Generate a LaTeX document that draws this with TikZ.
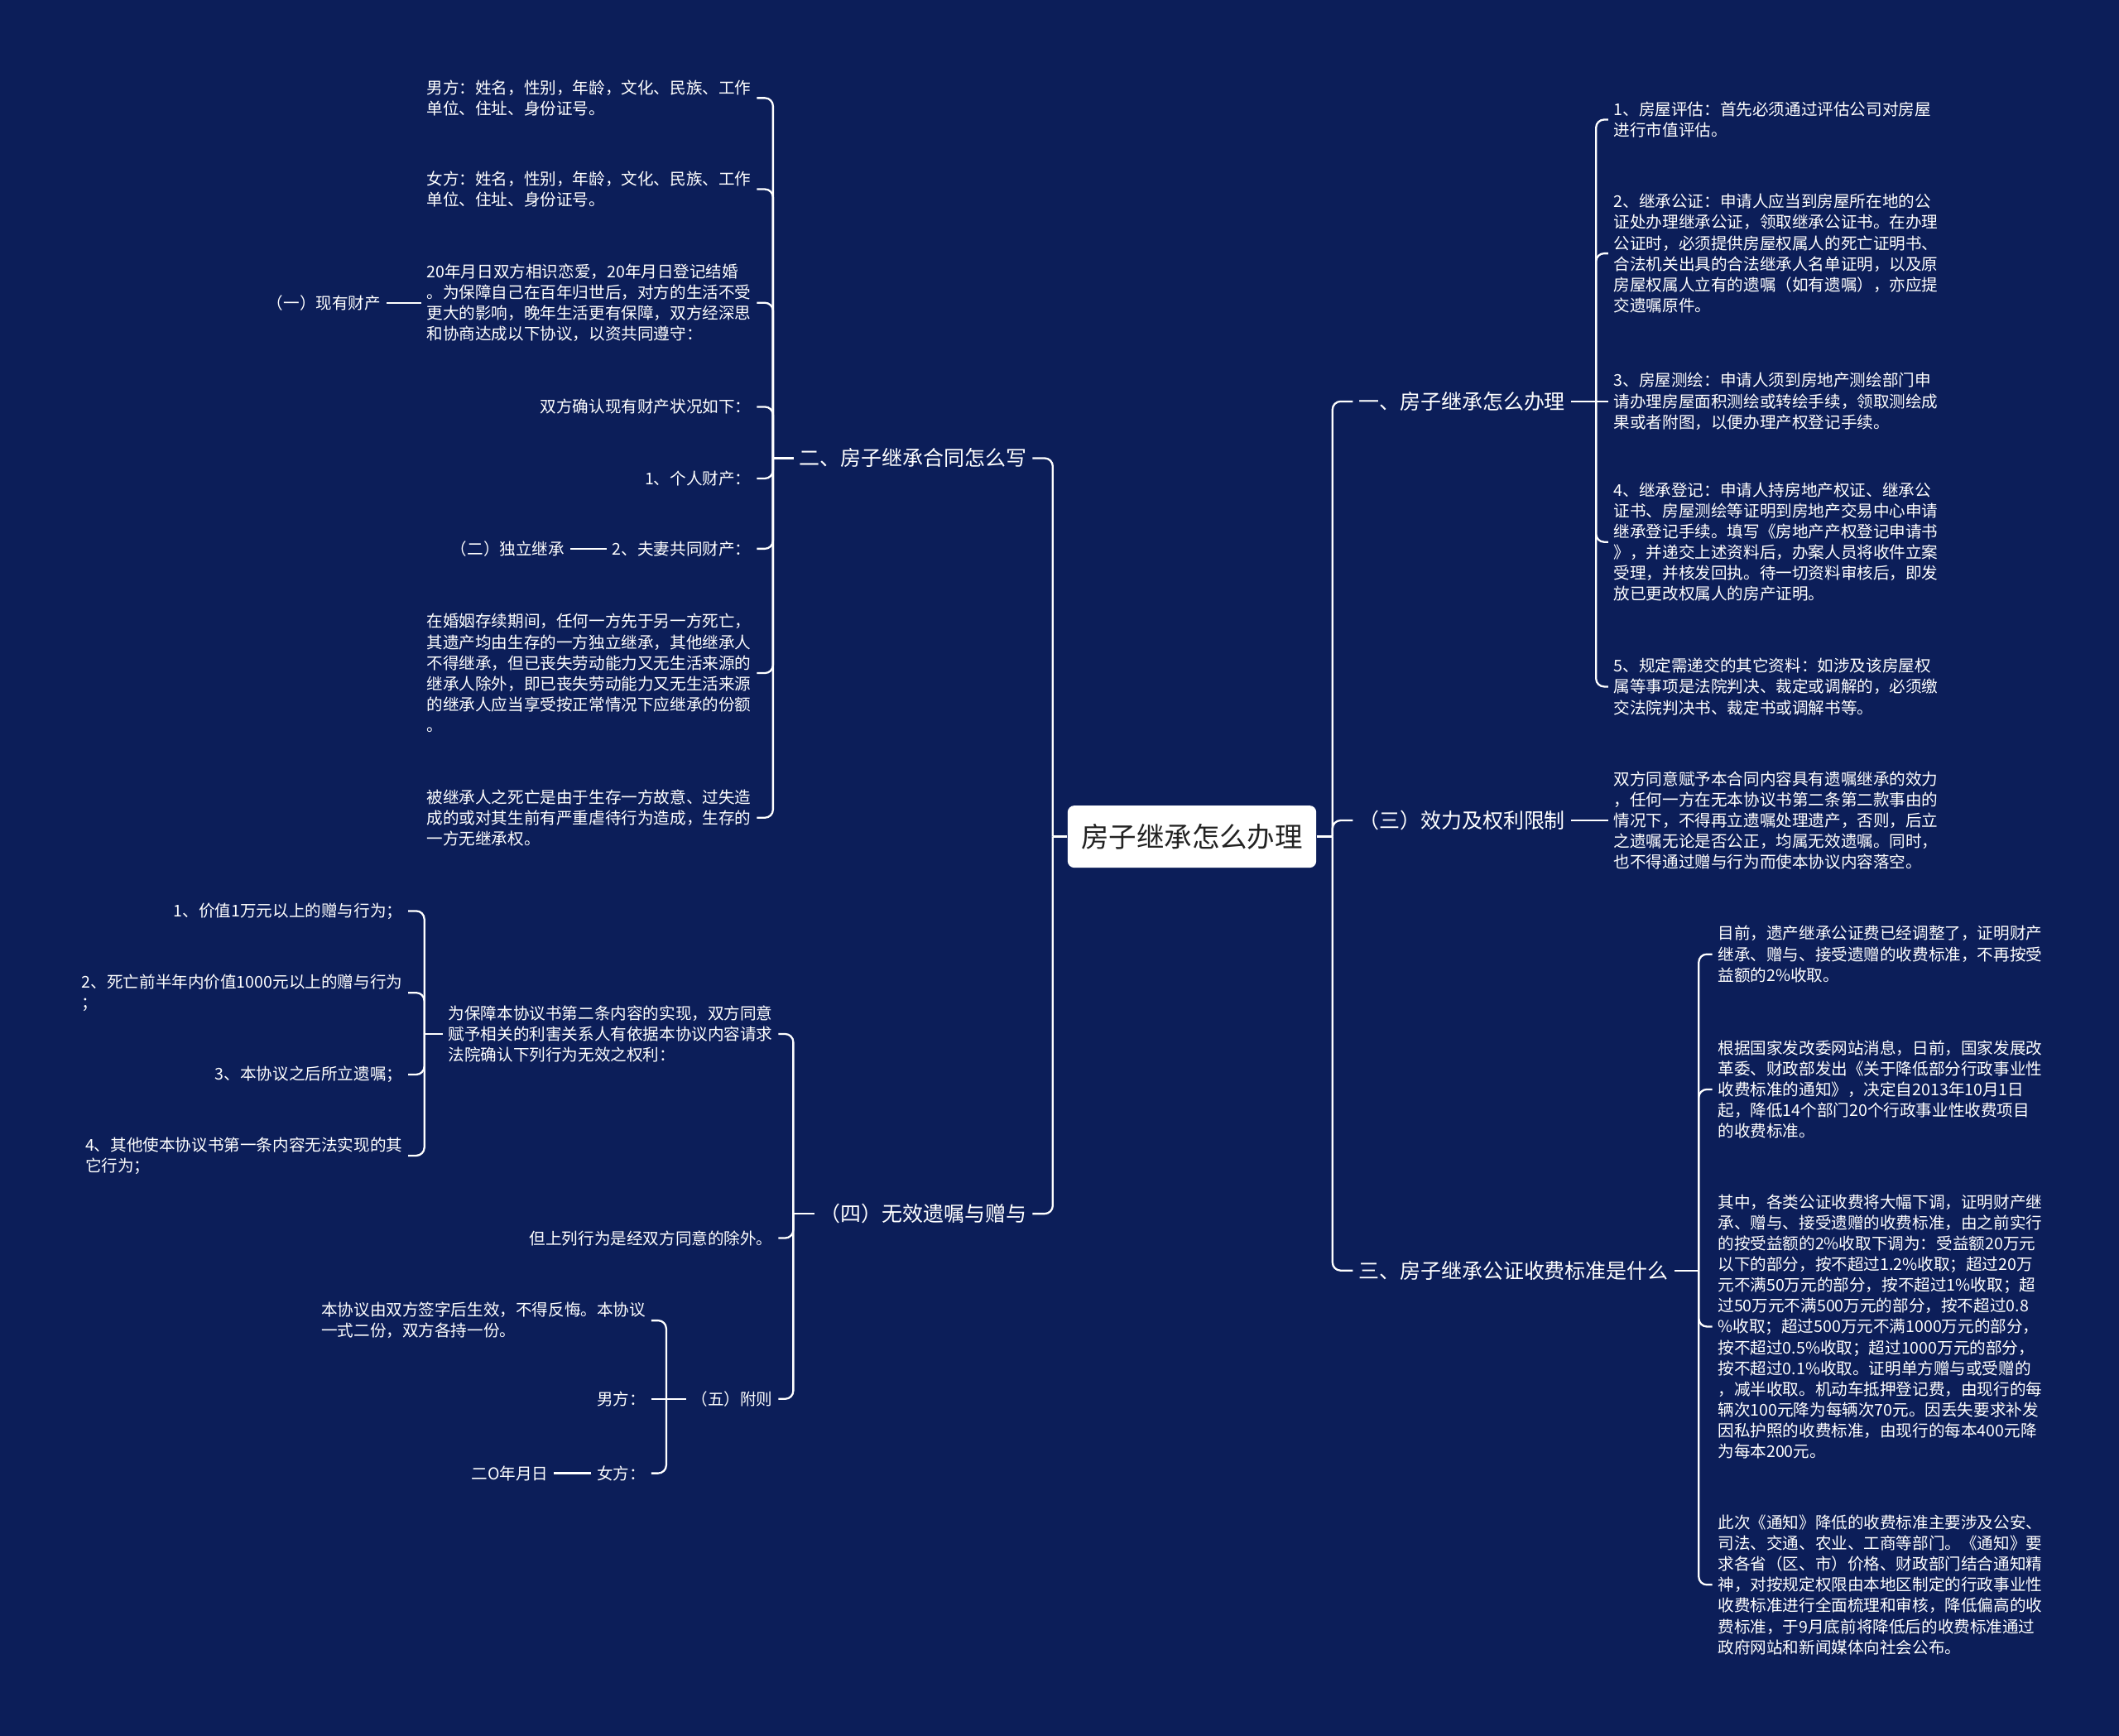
\documentclass[tikz,border=0pt]{standalone}
\usepackage{fontspec}
\setmainfont{Noto Sans CJK SC}
\definecolor{bgc}{RGB}{12,30,89}
\definecolor{ctext}{RGB}{34,34,34}
\tikzset{
  conn/.style={draw=white, line width=1.4pt},
  rconn/.style={conn, rounded corners=6pt},
  kidtxt/.style={text=white, font=\fontsize{12}{15.4}\selectfont, align=left, inner xsep=4pt, inner ysep=2pt},
  branchtxt/.style={text=white, font=\fontsize{15.3}{18}\selectfont, inner xsep=4pt, inner ysep=2pt},
  rootbox/.style={fill=white, rounded corners=5pt, text=ctext, font=\fontsize{20.5}{24}\selectfont, minimum width=184pt, minimum height=46pt, inner sep=0pt},
}
\begin{document}
\begin{tikzpicture}[x=1pt,y=-1pt]
\useasboundingbox (0,0) rectangle (1568,1284);
\fill[bgc] (-3,-3) rectangle (1571,1287);

% root
\node[rootbox] (root) at (882,619) {房子继承怎么办理};

% right main branches
\node[branchtxt, anchor=west] (r1) at (1001,297) {一、房子继承怎么办理};
\node[branchtxt, anchor=west] (r2) at (1001,607) {（三）效力及权利限制};
\node[branchtxt, anchor=west] (r3) at (1001,940) {三、房子继承公证收费标准是什么};

% left main branches
\node[branchtxt, anchor=east] (lA) at (764,339) {二、房子继承合同怎么写};
\node[branchtxt, anchor=east] (lB) at (764,898) {（四）无效遗嘱与赠与};

% r1 children
\node[kidtxt, anchor=west] (c1) at (1190,88.5) {1、房屋评估：首先必须通过评估公司对房屋\\进行市值评估。};
\node[kidtxt, anchor=west] (c2) at (1190,187.5) {2、继承公证：申请人应当到房屋所在地的公\\证处办理继承公证，领取继承公证书。在办理\\公证时，必须提供房屋权属人的死亡证明书、\\合法机关出具的合法继承人名单证明，以及原\\房屋权属人立有的遗嘱（如有遗嘱），亦应提\\交遗嘱原件。};
\node[kidtxt, anchor=west] (c3) at (1190,297) {3、房屋测绘：申请人须到房地产测绘部门申\\请办理房屋面积测绘或转绘手续，领取测绘成\\果或者附图，以便办理产权登记手续。};
\node[kidtxt, anchor=west] (c4) at (1190,401) {4、继承登记：申请人持房地产权证、继承公\\证书、房屋测绘等证明到房地产交易中心申请\\继承登记手续。填写《房地产产权登记申请书\\》，并递交上述资料后，办案人员将收件立案\\受理，并核发回执。待一切资料审核后，即发\\放已更改权属人的房产证明。};
\node[kidtxt, anchor=west] (c5) at (1190,508) {5、规定需递交的其它资料：如涉及该房屋权\\属等事项是法院判决、裁定或调解的，必须缴\\交法院判决书、裁定书或调解书等。};

% r2 child
\node[kidtxt, anchor=west] (s3) at (1190,607) {双方同意赋予本合同内容具有遗嘱继承的效力\\，任何一方在无本协议书第二条第二款事由的\\情况下，不得再立遗嘱处理遗产，否则，后立\\之遗嘱无论是否公正，均属无效遗嘱。同时，\\也不得通过赠与行为而使本协议内容落空。};

% r3 children
\node[kidtxt, anchor=west] (d1) at (1267,706) {目前，遗产继承公证费已经调整了，证明财产\\继承、赠与、接受遗赠的收费标准，不再按受\\益额的2\%收取。};
\node[kidtxt, anchor=west] (d2) at (1267,806) {根据国家发改委网站消息，日前，国家发展改\\革委、财政部发出《关于降低部分行政事业性\\收费标准的通知》，决定自2013年10月1日\\起，降低14个部门20个行政事业性收费项目\\的收费标准。};
\node[kidtxt, anchor=west] (d3) at (1267,981.5) {其中，各类公证收费将大幅下调，证明财产继\\承、赠与、接受遗赠的收费标准，由之前实行\\的按受益额的2\%收取下调为：受益额20万元\\以下的部分，按不超过1.2\%收取；超过20万\\元不满50万元的部分，按不超过1\%收取；超\\过50万元不满500万元的部分，按不超过0.8\\\%收取；超过500万元不满1000万元的部分，\\按不超过0.5\%收取；超过1000万元的部分，\\按不超过0.1\%收取。证明单方赠与或受赠的\\，减半收取。机动车抵押登记费，由现行的每\\辆次100元降为每辆次70元。因丢失要求补发\\因私护照的收费标准，由现行的每本400元降\\为每本200元。};
\node[kidtxt, anchor=west] (d4) at (1267,1172.5) {此次《通知》降低的收费标准主要涉及公安、\\司法、交通、农业、工商等部门。《通知》要\\求各省（区、市）价格、财政部门结合通知精\\神，对按规定权限由本地区制定的行政事业性\\收费标准进行全面梳理和审核，降低偏高的收\\费标准，于9月底前将降低后的收费标准通过\\政府网站和新闻媒体向社会公布。};

% lA children
\node[kidtxt, anchor=east] (a1) at (560,72.5) {男方：姓名，性别，年龄，文化、民族、工作\\单位、住址、身份证号。};
\node[kidtxt, anchor=east] (a2) at (560,140) {女方：姓名，性别，年龄，文化、民族、工作\\单位、住址、身份证号。};
\node[kidtxt, anchor=east] (a3) at (560,224) {20年月日双方相识恋爱，20年月日登记结婚\\。为保障自己在百年归世后，对方的生活不受\\更大的影响，晚年生活更有保障，双方经深思\\和协商达成以下协议，以资共同遵守：};
\node[kidtxt, anchor=east] (a3L) at (286,224) {（一）现有财产};
\node[kidtxt, anchor=east] (a4) at (560,301) {双方确认现有财产状况如下：};
\node[kidtxt, anchor=east] (a5) at (560,354) {1、个人财产：};
\node[kidtxt, anchor=east] (a6) at (560,406) {2、夫妻共同财产：};
\node[kidtxt, anchor=east] (a6L) at (422,406) {（二）独立继承};
\node[kidtxt, anchor=east] (a7) at (560,498) {在婚姻存续期间，任何一方先于另一方死亡，\\其遗产均由生存的一方独立继承，其他继承人\\不得继承，但已丧失劳动能力又无生活来源的\\继承人除外，即已丧失劳动能力又无生活来源\\的继承人应当享受按正常情况下应继承的份额\\。};
\node[kidtxt, anchor=east] (a8) at (560,605) {被继承人之死亡是由于生存一方故意、过失造\\成的或对其生前有严重虐待行为造成，生存的\\一方无继承权。};

% lB children
\node[kidtxt, anchor=east] (b1) at (576,765) {为保障本协议书第二条内容的实现，双方同意\\赋予相关的利害关系人有依据本协议内容请求\\法院确认下列行为无效之权利：};
\node[kidtxt, anchor=east] (b2) at (576,916) {但上列行为是经双方同意的除外。};
\node[kidtxt, anchor=east] (b3) at (576,1035) {（五）附则};

% b1 children
\node[kidtxt, anchor=east] (e1) at (302,674) {1、价值1万元以上的赠与行为；};
\node[kidtxt, anchor=east] (e2) at (302,734.5) {2、死亡前半年内价值1000元以上的赠与行为\\；};
\node[kidtxt, anchor=east] (e3) at (302,795) {3、本协议之后所立遗嘱；};
\node[kidtxt, anchor=east] (e4) at (302,855) {4、其他使本协议书第一条内容无法实现的其\\它行为；};

% b3 children
\node[kidtxt, anchor=east] (f1) at (482,977) {本协议由双方签字后生效，不得反悔。本协议\\一式二份，双方各持一份。};
\node[kidtxt, anchor=east] (f2) at (482,1035) {男方：};
\node[kidtxt, anchor=east] (f3) at (482,1090) {女方：};
\node[kidtxt, anchor=east] (f3L) at (410,1090) {二O年月日};

% junctions
\coordinate (jR) at (986,619);
\coordinate (jL) at (779,619);
\coordinate (j1) at (1181,297);
\coordinate (j3) at (1257,940);
\coordinate (jA) at (572,339);
\coordinate (jB) at (587,898);
\coordinate (jb1) at (314,765);
\coordinate (jb3) at (493,1035);

% connectors: root
\draw[conn] (root.east) -- (jR);
\foreach \n in {r1,r2,r3} \draw[rconn] (jR) |- (\n.west);
\draw[conn] (root.west) -- (jL);
\foreach \n in {lA,lB} \draw[rconn] (jL) |- (\n.east);

% r1
\draw[conn] (r1.east) -- (c3.west);
\foreach \n in {c1,c2,c4,c5} \draw[rconn] (j1) |- (\n.west);
% r2
\draw[conn] (r2.east) -- (s3.west);
% r3
\draw[conn] (r3.east) -- (j3);
\foreach \n in {d1,d2,d3,d4} \draw[rconn] (j3) |- (\n.west);

% lA
\draw[conn] (lA.west) -- (jA);
\foreach \n in {a1,a2,a3,a4,a5,a6,a7,a8} \draw[rconn] (jA) |- (\n.east);
\draw[conn] (a3.west) -- (a3L.east);
\draw[conn] (a6.west) -- (a6L.east);

% lB
\draw[conn] (lB.west) -- (jB);
\foreach \n in {b1,b2,b3} \draw[rconn] (jB) |- (\n.east);
\draw[conn] (b1.west) -- (jb1);
\foreach \n in {e1,e2,e3,e4} \draw[rconn] (jb1) |- (\n.east);
\draw[conn] (b3.west) -- (f2.east);
\foreach \n in {f1,f3} \draw[rconn] (jb3) |- (\n.east);
\draw[conn] (f3.west) -- (f3L.east);
\end{tikzpicture}
\end{document}
